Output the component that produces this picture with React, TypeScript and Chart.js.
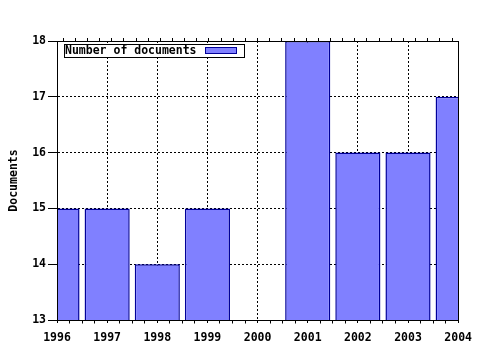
import React, { useEffect, useRef } from 'react';
import { Chart, registerables } from 'chart.js';

Chart.register(...registerables);

const years = [1996, 1997, 1998, 1999, 2000, 2001, 2002, 2003, 2004];
const documents = [15, 15, 14, 15, 13, 18, 16, 16, 17];
const yMin = 13;
const yMax = 18;
const seriesLabel = 'Number of documents';
const yTitle = 'Documents';

const FONT = "'DejaVu Sans Mono', monospace";
const BAR_FILL = '#8080ff';
const BAR_EDGE = '#000099';

const al = (v: number) => Math.round(v - 0.5) + 0.5;

const framePlugin = {
  id: 'frameAndMinor',
  afterDatasetsDraw(chart: any) {
    const { ctx, chartArea: a, scales } = chart;
    const x = scales.x;
    ctx.save();
    ctx.strokeStyle = '#000';
    ctx.lineWidth = 1;
    ctx.setLineDash([]);
    const l = al(a.left), r = al(a.right), t = al(a.top), b = al(a.bottom);
    ctx.beginPath();
    ctx.moveTo(l, t); ctx.lineTo(r, t); ctx.lineTo(r, b); ctx.lineTo(l, b); ctx.closePath();
    ctx.stroke();
    // bottom minor ticks
    ctx.beginPath();
    for (let i = 0; i < years.length - 1; i++) {
      for (let k = 1; k <= 3; k++) {
        const px = al(x.getPixelForValue(years[i] + k / 4));
        ctx.moveTo(px, b);
        ctx.lineTo(px, b + 3);
      }
    }
    ctx.stroke();
    ctx.restore();
  },
  afterDraw(chart: any) {
    const { ctx, chartArea: a } = chart;
    const label = chart.data.datasets[0].label as string;
    ctx.save();
    ctx.font = `bold 11.5px ${FONT}`;
    const tw = ctx.measureText(label).width;
    const bx = al(a.left + 7), by = al(a.top + 3);
    const h = 13, sw = 31, gap = 8;
    const bw = Math.round(1 + tw + gap + sw + gap);
    ctx.fillStyle = '#fff';
    ctx.fillRect(bx, by, bw, h);
    ctx.strokeStyle = '#000';
    ctx.lineWidth = 1;
    ctx.strokeRect(bx, by, bw, h);
    ctx.fillStyle = '#000';
    ctx.textAlign = 'left';
    ctx.textBaseline = 'middle';
    ctx.fillText(label, bx + 0.5, by + h / 2 + 0.5);
    const sx = Math.round(bx + 1 + tw + gap) + 0.5;
    const sy = by + 3;
    ctx.fillStyle = BAR_FILL;
    ctx.fillRect(sx, sy, sw, 6);
    ctx.strokeStyle = BAR_EDGE;
    ctx.strokeRect(sx, sy, sw, 6);
    ctx.restore();
  },
};

export default function App() {
  const ref = useRef<HTMLCanvasElement | null>(null);
  useEffect(() => {
    if (!ref.current) return;
    const chart = new Chart(ref.current, {
      type: 'bar',
      data: {
        datasets: [
          {
            label: seriesLabel,
            data: years.map((y, i) => ({ x: y, y: documents[i] })),
            backgroundColor: BAR_FILL,
            borderColor: BAR_EDGE,
            borderWidth: 1.5,
            borderSkipped: false,
            inflateAmount: 0,
            barPercentage: 0.9,
            categoryPercentage: 1,
            clip: 0,
            xAxisID: 'x',
            yAxisID: 'y',
          } as any,
        ],
      },
      options: {
        animation: false,
        responsive: true,
        maintainAspectRatio: false,
        layout: { padding: { left: 0, right: 21, top: 0, bottom: 0 } },
        plugins: { legend: { display: false }, tooltip: { enabled: false } },
        scales: {
          x: {
            type: 'linear',
            position: 'bottom',
            min: years[0],
            max: years[years.length - 1],
            offset: false,
            afterFit: (s: any) => { s.height = 30; },
            ticks: {
              stepSize: 1,
              autoSkip: false,
              maxRotation: 0,
              minRotation: 0,
              padding: 8,
              color: '#000',
              font: { family: FONT, size: 11.5, weight: 'bold' },
              callback: (v: any) => String(v),
            },
            grid: {
              offset: false,
              color: '#000',
              lineWidth: 1,
              tickLength: 3,
              tickColor: '#000',
              tickBorderDash: [],
            },
            border: { display: true, color: '#000', width: 1, dash: [2, 2] },
          },
          xTop: {
            type: 'linear',
            position: 'top',
            min: years[0],
            max: years[years.length - 1],
            afterFit: (s: any) => { s.height = 41; },
            ticks: { display: false, stepSize: 0.25 },
            grid: { offset: false, drawOnChartArea: false, tickLength: 3, color: '#000', tickColor: '#000' },
            border: { display: true, color: '#000', width: 1 },
          },
          y: {
            type: 'linear',
            position: 'left',
            min: yMin,
            max: yMax,
            afterFit: (s: any) => { s.width = 57; },
            ticks: {
              stepSize: 1,
              padding: 2,
              color: '#000',
              font: { family: FONT, size: 11.5, weight: 'bold' },
            },
            grid: {
              color: '#000',
              lineWidth: 1,
              tickLength: 9,
              tickColor: '#000',
              tickBorderDash: [],
            },
            border: { display: true, color: '#000', width: 1, dash: [2, 2] },
            title: {
              display: true,
              text: yTitle,
              color: '#000',
              font: { family: FONT, size: 11.5, weight: 'bold' },
              padding: { top: 7, bottom: 0 },
            },
          },
        },
      },
      plugins: [framePlugin],
    });
    return () => chart.destroy();
  }, []);
  return (
    <div style={{ position: 'absolute', left: 0, top: 0, width: 480, height: 350, background: '#fff' }}>
      <canvas ref={ref} />
    </div>
  );
}
